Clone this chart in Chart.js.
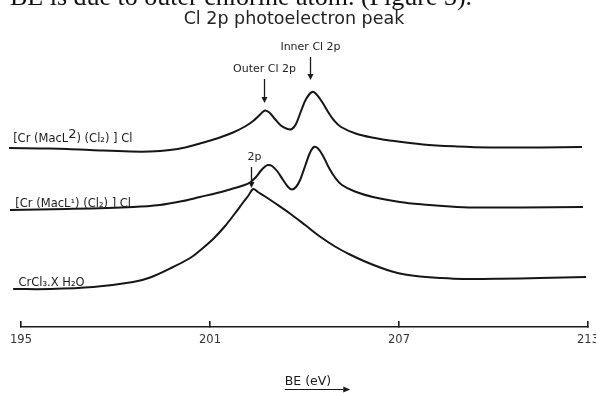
<!DOCTYPE html>
<html>
<head>
<meta charset="utf-8">
<script src="https://cdn.jsdelivr.net/npm/chart.js@4.4.0/dist/chart.umd.min.js"></script>
<style>
  html, body { margin: 0; padding: 0; background: #fff; }
  #chart { display: block; }
</style>
</head>
<body>
<canvas id="chart" width="596" height="393"></canvas>
<script>
// binding energy (eV) and intensity (a.u.)
const macL2Energy = [194.62, 195.60, 196.46, 197.51, 198.46, 199.10, 199.73, 200.21, 200.68, 201.22, 201.73, 202.11, 202.37, 202.56, 202.75, 202.90, 203.06, 203.25, 203.44, 203.60, 203.73, 203.89, 204.05, 204.24, 204.37, 204.56, 204.75, 204.94, 205.16, 205.67, 206.24, 206.71, 207.76, 208.84, 209.89, 211.48, 212.81];
const macL2Counts = [179, 178.5, 178, 176.5, 175.5, 175.5, 177, 179.5, 183.5, 188.5, 194.5, 200.5, 206, 211.5, 216.5, 214, 208, 201.5, 198.2, 198, 203, 216, 228, 235, 233, 225, 215, 206.5, 200, 193, 189, 186.5, 182.5, 180.5, 179.5, 179.5, 180];

const macL1Energy = [194.65, 196.46, 198.56, 199.41, 200.14, 200.68, 201.22, 201.63, 202.05, 202.27, 202.46, 202.62, 202.75, 202.84, 202.97, 203.13, 203.32, 203.48, 203.60, 203.73, 203.86, 204.02, 204.17, 204.30, 204.43, 204.59, 204.78, 204.97, 205.19, 205.60, 206.17, 207.03, 207.76, 208.62, 209.35, 210.94, 212.84];
const macL1Counts = [117, 118, 120, 122, 126, 130, 134, 137.5, 141.5, 144.5, 150, 156.5, 160.5, 162, 161, 156, 147, 140, 137.5, 140, 147, 161, 174, 180, 178.5, 171, 159, 149.5, 142, 135.5, 130, 125, 122.5, 120.5, 119.5, 119.5, 120];

const crcl3Energy = [194.75, 195.92, 197.29, 198.56, 199.10, 199.83, 200.37, 200.68, 201.10, 201.48, 201.79, 202.05, 202.21, 202.37, 202.52, 202.75, 203.06, 203.54, 204.02, 204.49, 204.97, 205.44, 205.92, 206.40, 206.78, 207.19, 207.67, 208.30, 209.03, 210.21, 211.48, 212.94];
const crcl3Counts = [38, 38, 40, 45, 49.5, 60, 69, 76.5, 88, 101, 113.5, 124.5, 131, 138, 135, 130.5, 124, 113.5, 102, 90.5, 80.5, 72.5, 65.5, 59.5, 55.5, 52.5, 50.5, 49, 48, 48.2, 49, 50];

const tickValues = [195, 201, 207, 213];

// sample names, written on the left above each trace ("^" = raised char)
const seriesNames = ['[Cr (MacL^2) (Cl\u2082) ] Cl', '[Cr (MacL\u00b9) (Cl\u2082) ] Cl', 'CrCl\u2083.X H\u2082O'];
const nameEnergy = [194.75, 194.82, 194.92];
const nameLevel = [185, 120, 41];

// arrows marking the peaks
const peakLabels = ['Outer Cl 2p', 'Inner Cl 2p', '2p'];
const peakEnergy = [202.71, 204.17, 202.30];
const arrowFrom = [248, 270, 160];
const arrowTo = [224, 247, 139];

function toPoints(xs, ys) {
  return xs.map((v, i) => ({ x: v, y: ys[i] }));
}

function arrowHead(ctx, x, y, dir) {
  ctx.beginPath();
  if (dir === 'down') {
    ctx.moveTo(x - 3, y - 6);
    ctx.lineTo(x + 3, y - 6);
    ctx.lineTo(x, y);
  } else {
    ctx.moveTo(x - 7, y - 3);
    ctx.lineTo(x - 7, y + 3);
    ctx.lineTo(x, y);
  }
  ctx.closePath();
  ctx.fill();
}

const decorations = {
  id: 'decorations',
  afterDraw(chart) {
    const { ctx, scales } = chart;
    const x = scales.x, y = scales.y;
    ctx.save();

    // bottom of the body-text line that the crop cut through
    ctx.fillStyle = '#111';
    ctx.font = '26px "Liberation Serif"';
    ctx.textAlign = 'left';
    ctx.textBaseline = 'alphabetic';
    ctx.fillText('BE is due to outer chlorine atom. (Figure 3).', 10, 5);

    // figure title
    ctx.fillStyle = '#222';
    ctx.font = '17.5px "DejaVu Sans"';
    ctx.textAlign = 'center';
    ctx.textBaseline = 'middle';
    ctx.fillText('Cl 2p photoelectron peak', 294, 19);

    // peak arrows
    ctx.font = '11px "DejaVu Sans"';
    ctx.strokeStyle = '#1a1a1a';
    ctx.fillStyle = '#1a1a1a';
    ctx.lineWidth = 1.3;
    peakLabels.forEach((label, i) => {
      const px = Math.round(x.getPixelForValue(peakEnergy[i])) + 0.5;
      const y0 = y.getPixelForValue(arrowFrom[i]);
      const y1 = y.getPixelForValue(arrowTo[i]);
      ctx.beginPath();
      ctx.moveTo(px, y0);
      ctx.lineTo(px, y1 - 5);
      ctx.stroke();
      arrowHead(ctx, px, y1, 'down');
      ctx.fillStyle = '#222';
      ctx.fillText(label, px + (label === '2p' ? 3 : 0), y0 - 10);
      ctx.fillStyle = '#1a1a1a';
    });

    // sample names
    ctx.textAlign = 'left';
    ctx.textBaseline = 'alphabetic';
    seriesNames.forEach((name, i) => {
      let px = x.getPixelForValue(nameEnergy[i]);
      const py = y.getPixelForValue(nameLevel[i]);
      name.split('^').forEach((part, k) => {
        if (k > 0) {
          ctx.font = '13px "DejaVu Sans"';
          ctx.fillText(part[0], px, py - 4);
          px += ctx.measureText(part[0]).width;
          part = part.slice(1);
        }
        ctx.font = '11.5px "DejaVu Sans"';
        ctx.fillText(part, px, py);
        px += ctx.measureText(part).width;
      });
    });

    // "BE (eV)" with the underline arrow
    ctx.font = '12.5px "DejaVu Sans"';
    ctx.textAlign = 'center';
    ctx.textBaseline = 'middle';
    const cx = 308, cy = 382;
    ctx.fillText('BE (eV)', cx, cy);
    const w = ctx.measureText('BE (eV)').width;
    ctx.lineWidth = 1.2;
    ctx.beginPath();
    ctx.moveTo(cx - w / 2, cy + 7.5);
    ctx.lineTo(cx + w / 2 + 12, cy + 7.5);
    ctx.stroke();
    arrowHead(ctx, cx + w / 2 + 19, cy + 7.5, 'right');

    ctx.restore();
  }
};

const lineStyle = {
  borderColor: '#161616',
  borderWidth: 2,
  pointRadius: 0,
  fill: false,
  tension: 0.35,
  clip: false
};

new Chart(document.getElementById('chart'), {
  type: 'line',
  data: {
    datasets: [
      Object.assign({ label: seriesNames[0], data: toPoints(macL2Energy, macL2Counts) }, lineStyle),
      Object.assign({ label: seriesNames[1], data: toPoints(macL1Energy, macL1Counts) }, lineStyle),
      Object.assign({ label: seriesNames[2], data: toPoints(crcl3Energy, crcl3Counts) }, lineStyle)
    ]
  },
  options: {
    responsive: false,
    animation: false,
    devicePixelRatio: 1,
    layout: { padding: { left: 21, right: 8, top: 27, bottom: 0 } },
    plugins: { legend: { display: false }, tooltip: { enabled: false } },
    scales: {
      x: {
        type: 'linear',
        min: 195,
        max: 213,
        afterBuildTicks: scale => { scale.ticks = tickValues.map(v => ({ value: v })); },
        afterFit: scale => { scale.height = 66; scale.paddingLeft = 0; scale.paddingRight = 0; },
        border: { display: true, color: '#1a1a1a', width: 1.6 },
        grid: { drawOnChartArea: false, drawTicks: true, tickLength: -6, color: '#1a1a1a', lineWidth: 1.6 },
        ticks: {
          padding: 12,
          color: '#333',
          font: { family: 'DejaVu Sans', size: 11.5 },
          maxRotation: 0,
          autoSkip: false
        }
      },
      y: { display: false, min: 0, max: 300 }
    }
  },
  plugins: [decorations]
});
</script>
</body>
</html>
